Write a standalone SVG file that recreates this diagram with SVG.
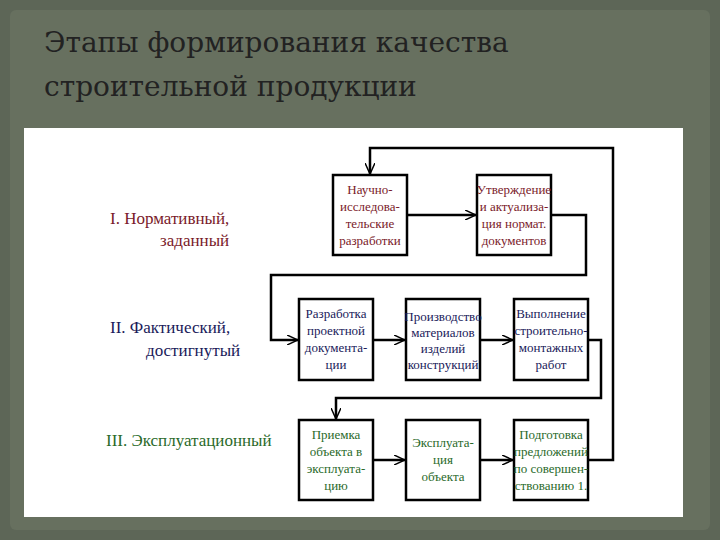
<svg xmlns="http://www.w3.org/2000/svg" width="720" height="540" viewBox="0 0 720 540">
<defs>
<marker id="a" markerWidth="12" markerHeight="10" refX="11" refY="5" orient="auto" markerUnits="userSpaceOnUse"><path d="M0,0 L11,5 L0,10" fill="none" stroke="#000" stroke-width="1.5"/></marker>
</defs>
<style>
.t{font-family:"Liberation Serif","DejaVu Serif",serif;font-size:13px;text-anchor:middle}
.r{fill:#7a1a2a}.n{fill:#1a1a5a}.g{fill:#2a6a2a}
.b{fill:#fff;stroke:#000;stroke-width:2.5}
.c{fill:none;stroke:#000;stroke-width:2.5;marker-end:url(#a)}
.l{font-family:"Liberation Serif","DejaVu Serif",serif;font-size:17px}
.h{font-family:"DejaVu Serif","Liberation Serif",serif;font-size:28px;fill:#222}
</style>
<rect width="720" height="540" fill="#5d6657"/>
<rect x="10" y="10" width="700" height="520" fill="#67705f" rx="6"/>
<text class="h" x="44" y="52">Этапы формирования качества</text>
<text class="h" x="44" y="96">строительной продукции</text>
<rect x="24" y="128" width="659" height="389" fill="#fff"/>
<text class="l r" x="110" y="224">I.  Нормативный,</text>
<text class="l r" x="160" y="246">заданный</text>
<text class="l n" x="110" y="333">II.  Фактический,</text>
<text class="l n" x="146" y="356">достигнутый</text>
<text class="l g" x="106" y="446">III. Эксплуатационный</text>
<g id="connectors">
<path class="c" d="M407,215 H476"/>
<path class="c" d="M551,215 H586 V275 H271 V340 H298"/>
<path class="c" d="M373,340 H405"/>
<path class="c" d="M480,340 H513"/>
<path class="c" d="M588,340 H601 V398 H336 V419"/>
<path class="c" d="M373,460 H405"/>
<path class="c" d="M480,460 H513"/>
<path class="c" d="M588,460 H613 V148 H370 V174"/>
</g>
<g id="n1"><rect class="b" x="333" y="175" width="74" height="80"/><text class="t r"><tspan x="370" y="194">Научно-</tspan><tspan x="370" y="211">исследова-</tspan><tspan x="370" y="228">тельские</tspan><tspan x="370" y="245">разработки</tspan></text></g>
<g id="n2"><rect class="b" x="477" y="175" width="74" height="80"/><text class="t r" font-size="12"><tspan x="514" y="194">Утверждение</tspan><tspan x="514" y="211">и актуализа-</tspan><tspan x="514" y="228">ция нормат.</tspan><tspan x="514" y="245">документов</tspan></text></g>
<g id="n3"><rect class="b" x="299" y="299" width="74" height="81"/><text class="t n"><tspan x="336" y="318">Разработка</tspan><tspan x="336" y="335">проектной</tspan><tspan x="336" y="352">документа-</tspan><tspan x="336" y="369">ции</tspan></text></g>
<g id="n4"><rect class="b" x="406" y="299" width="74" height="81"/><text class="t n" font-size="12"><tspan x="443" y="321">Производство</tspan><tspan x="443" y="337">материалов</tspan><tspan x="443" y="353">изделий</tspan><tspan x="443" y="369">конструкций</tspan></text></g>
<g id="n5"><rect class="b" x="514" y="299" width="74" height="81"/><text class="t n" font-size="12"><tspan x="551" y="318">Выполнение</tspan><tspan x="551" y="335">строительно-</tspan><tspan x="551" y="352">монтажных</tspan><tspan x="551" y="369">работ</tspan></text></g>
<g id="n6"><rect class="b" x="299" y="420" width="74" height="80"/><text class="t g"><tspan x="336" y="439">Приемка</tspan><tspan x="336" y="456">объекта в</tspan><tspan x="336" y="473">эксплуата-</tspan><tspan x="336" y="490">цию</tspan></text></g>
<g id="n7"><rect class="b" x="406" y="420" width="74" height="80"/><text class="t g"><tspan x="443" y="447">Эксплуата-</tspan><tspan x="443" y="464">ция</tspan><tspan x="443" y="481">объекта</tspan></text></g>
<g id="n8"><rect class="b" x="514" y="420" width="74" height="80"/><text class="t g" font-size="12"><tspan x="551" y="439">Подготовка</tspan><tspan x="551" y="456">предложений</tspan><tspan x="551" y="473">по совершен-</tspan><tspan x="551" y="490">ствованию 1.</tspan></text></g>
</svg>
